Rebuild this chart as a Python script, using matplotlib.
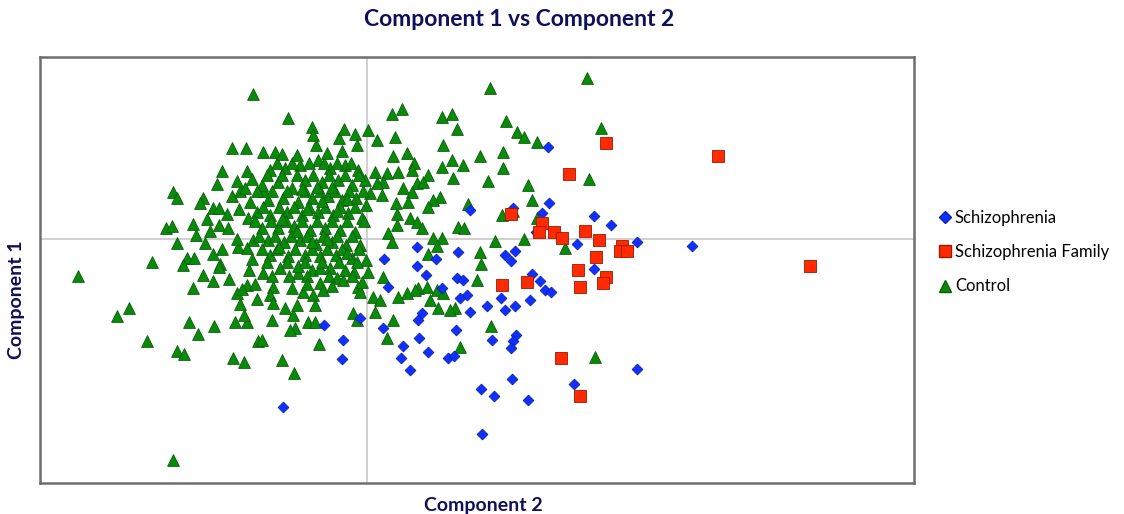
import matplotlib
matplotlib.use("Agg")
import matplotlib.pyplot as plt
import numpy as np
from matplotlib.lines import Line2D

# Component scores (arbitrary units): (component 2, component 1)
schizophrenia = [
    (181, 92), (182, 36), (175, 26), (227, 23), (244, 14), (210, -5), (270, -3), (325, -7),
    (138, -16), (148, -12), (144, -22), (169, 7), (227, -30), (146, 31), (103, 29), (50, -8),
    (69, -20), (91, -13), (17, -20), (50, -27), (-43, -86), (-24, -101), (-25, -120), (-84, -168),
    (-7, -79), (21, -48), (59, -36), (90, -39), (96, -41), (100, -56), (93, -59), (75, -49),
    (55, -74), (51, -81), (16, -89), (52, -99), (36, -107), (61, -113), (34, -119), (43, -131),
    (89, -91), (103, -73), (81, -119), (87, -117), (120, -67), (114, -150), (115, -195),
    (125, -101), (127, -157), (165, -35), (173, -42), (178, -51), (184, -53), (134, -59),
    (138, -71), (148, -67), (163, -61), (149, -96), (146, -102), (144, -109), (145, -140),
    (161, -161), (207, -145), (270, -130),
]

schizophrenia_family = [
    (239, 96), (202, 65), (144, 25), (175, 16), (172, 7), (187, 7), (195, 1), (218, 8),
    (232, -1), (255, -7), (253, -12), (260, -12), (229, -18), (211, -31), (351, 83), (443, -27),
    (135, -46), (160, -43), (213, -48), (239, -38), (236, -44), (194, -119), (213, -157),
]

control = [
    (-114, 145), (-135, 91), (-121, 91), (-104, 87), (-145, 68), (-120, 68), (-194, 47), (-190, 41),
    (-164, 41), (-167, 36), (-154, 31), (-148, 31), (-135, 43), (-127, 48), (-122, 51), (-103, 48),
    (-201, 11), (-195, 13), (-174, 15), (-171, 4), (-157, 8), (-148, 14), (-139, 11), (-190, -4),
    (-162, -4), (-154, -15), (-180, -19), (-173, -19), (-215, -23), (-147, -25), (-119, 21),
    (-110, 27), (-117, 37), (-129, -8), (-120, -9), (-114, -1), (-289, -37), (-238, -69),
    (-250, -77), (-220, -102), (-178, -83), (-169, -95), (-153, -87), (-190, -112), (-183, -115),
    (-134, -119), (-123, -123), (-109, -102), (-132, -83), (-120, -83), (-123, -76), (-127, -65),
    (-130, -54), (-110, -60), (-174, -49), (-164, -36), (-154, -42), (-184, -26), (-148, -28),
    (-118, -31), (-120, -46), (-194, -221),
    (-79, 121), (-92, 87), (-55, 112), (-54, 104), (-51, 94), (-28, 101), (-23, 110), (-12, 105),
    (1, 109), (10, 99), (-10, 94), (25, 125), (35, 130), (28, 102), (75, 122), (85, 125), (90, 110),
    (76, 94), (113, 83), (123, 151), (121, 58), (26, 83), (40, 86), (47, 76), (75, 72), (85, 79),
    (96, 74), (86, 61), (61, 64), (45, 69), (8, 67), (20, 66), (31, 67), (16, 57), (10, 56),
    (36, 51), (50, 56), (56, 57), (45, 47), (41, 37), (29, 36), (15, 44), (3, 46), (73, 42),
    (66, 39), (61, 32), (101, 35), (30, 25), (30, 14), (43, 21), (50, 17), (55, 11), (91, 12),
    (97, 11), (21, 6), (25, -3), (66, 1), (75, 1), (70, -7), (61, -15), (113, -13), (114, -25),
    (220, 161), (139, 118), (150, 107), (157, 102), (170, 97), (136, 87), (136, 71), (161, 54),
    (165, 39), (135, 24), (146, 28), (170, 21), (234, 111), (222, 60), (128, -2), (157, 0),
    (198, -9), (124, -87), (228, -118),
    (110, -41), (93, -108), (88, -69), (83, -71), (71, -69), (63, -61), (51, -49), (48, -51),
    (40, -54), (31, -58), (60, -48), (70, -51), (76, -54), (16, -38), (6, -58), (13, -61),
    (8, -73), (20, -99), (26, -81), (-10, -81), (-14, -74), (-9, -48), (-7, -53), (-13, -33),
    (1, -33), (-30, -39), (-24, -41), (-47, -44), (-44, -51), (-54, -56), (-52, -66), (-59, -83),
    (-52, -83), (-72, -89), (-77, -91), (-74, -76), (-82, -69), (-70, -66), (-64, -53), (-75, -49),
    (-94, -48), (-97, -56), (-94, -64), (-95, -81), (-105, -101), (-48, -105), (-85, -121),
    (-73, -134), (-69, -34), (-55, -31), (-47, -29), (-104, -34),
    (-97, 69), (-82, 71), (-67, 74), (-49, 79), (-37, 71), (-22, 74), (-9, 69), (-62, 59),
    (-45, 57), (-29, 59), (-15, 54), (-2, 59), (-105, 54), (-89, 57), (-75, 51), (-99, 39),
    (-84, 41), (-69, 37), (-55, 41), (-39, 43), (-25, 39), (-11, 41), (-1, 34), (-97, 24),
    (-80, 27), (-65, 24), (-49, 27), (-34, 24), (-19, 26), (-5, 21), (-105, 11), (-89, 11),
    (-73, 13), (-57, 9), (-42, 11), (-27, 9), (-12, 7), (-99, -1), (-83, -3), (-67, -1),
    (-51, -5), (-35, -3), (-21, -6), (-7, -6), (-97, -16), (-79, -17), (-62, -16), (-47, -17),
    (-31, -16), (-15, -19), (-1, -21), (-87, -29), (-69, -27), (-37, -29), (-22, -31), (-5, -43),
    (-90, 76), (-75, 76), (-58, 76), (-43, 76), (-30, 76), (-16, 76),
    (-100, 64), (-85, 64), (-70, 64), (-54, 64), (-38, 64), (-22, 64), (-8, 64),
    (-110, 48), (-95, 48), (-80, 48), (-62, 48), (-47, 48), (-32, 48), (-18, 48), (-4, 48),
    (-104, 32), (-88, 32), (-73, 32), (-58, 32), (-42, 32), (-27, 32), (-12, 32),
    (-112, 18), (-96, 18), (-81, 18), (-65, 18), (-50, 18), (-35, 18), (-20, 18), (-3, 18),
    (-108, 3), (-92, 3), (-76, 3), (-60, 3), (-44, 3), (-30, 3), (-15, 3),
    (-105, -10), (-90, -10), (-72, -10), (-55, -10), (-40, -10), (-25, -10), (-8, -10),
    (-100, -23), (-80, -23), (-62, -23), (-45, -23), (-28, -23), (-10, -23),
    (-95, -37), (-78, -37), (-60, -37), (-38, -37), (-15, -37),
    (-140, 25), (-130, 0), (-138, -40), (-145, -10), (-160, 20), (-150, 55), (-128, 30),
    (-115, -20), (-112, -45), (-125, -50),
    (-85, 85), (-70, 84), (-40, 86), (-25, 88), (-65, 50), (-50, 52), (-35, 52), (-20, 40),
    (-60, 30), (-45, 38), (-30, 28), (-85, 20), (-70, 8), (-55, -3), (-40, 0), (-20, -14),
    (-88, -8), (-60, -45), (-35, -47), (-115, 60), (-130, 58),
]

series_names = ["Schizophrenia", "Schizophrenia Family", "Control"]

W, H = 1124, 514
fig = plt.figure(figsize=(W / 100, H / 100), dpi=100)
ax = fig.add_axes([40 / W, 1 - 483 / H, (914 - 40) / W, (483 - 57) / H])

ax.axhline(0, color="#c8c8c8", lw=1.2, zorder=1)
ax.axvline(0, color="#c8c8c8", lw=1.2, zorder=1)

styles = {
    "Control": dict(marker="^", s=72, c="#0a8a0a", edgecolors="#066006"),
    "Schizophrenia": dict(marker="D", s=30, c="#1030ff", edgecolors="#0a20b0"),
    "Schizophrenia Family": dict(marker="s", s=80, c="#ff2a00", edgecolors="#a01800"),
}
data = {"Schizophrenia": schizophrenia, "Schizophrenia Family": schizophrenia_family,
        "Control": control}

for name in ["Control", "Schizophrenia", "Schizophrenia Family"]:
    arr = np.array(data[name], dtype=float)
    st = styles[name]
    ax.scatter(arr[:, 0], arr[:, 1], marker=st["marker"], s=st["s"], c=st["c"],
               edgecolors=st["edgecolors"], linewidths=0.6, zorder=3)

ax.set_xlim(-327, 547)
ax.set_ylim(-244, 182)
ax.set_xticks([])
ax.set_yticks([])
for sp in ax.spines.values():
    sp.set_color("#6e6e6e")
    sp.set_linewidth(1.8)

font = "Lato"
navy = "#10105a"
fig.text(519 / W, 1 - 20 / H, "Component 1 vs Component 2", ha="center", va="center",
         fontsize=16.5, fontweight="bold", color=navy, family=font)
fig.text(483 / W, 1 - 505 / H, "Component 2", ha="center", va="center",
         fontsize=14, fontweight="bold", color=navy, family=font)
fig.text(17 / W, 1 - 300 / H, "Component 1", ha="center", va="center", rotation=90,
         fontsize=14, fontweight="bold", color=navy, family=font)

handles = [
    Line2D([], [], ls="none", marker="D", markersize=6, color="#1030ff", mec="#0a20b0"),
    Line2D([], [], ls="none", marker="s", markersize=9, color="#ff2a00", mec="#a01800"),
    Line2D([], [], ls="none", marker="^", markersize=8, color="#0a8a0a", mec="#066006"),
]
fig.legend(handles, series_names, loc="center left", bbox_to_anchor=(930 / W, 1 - 252 / H),
           frameon=False, prop={"family": font, "size": 12}, handletextpad=0.1,
           handlelength=1.0, labelspacing=1.1, borderaxespad=0)

fig.savefig("out.png", dpi=100)
